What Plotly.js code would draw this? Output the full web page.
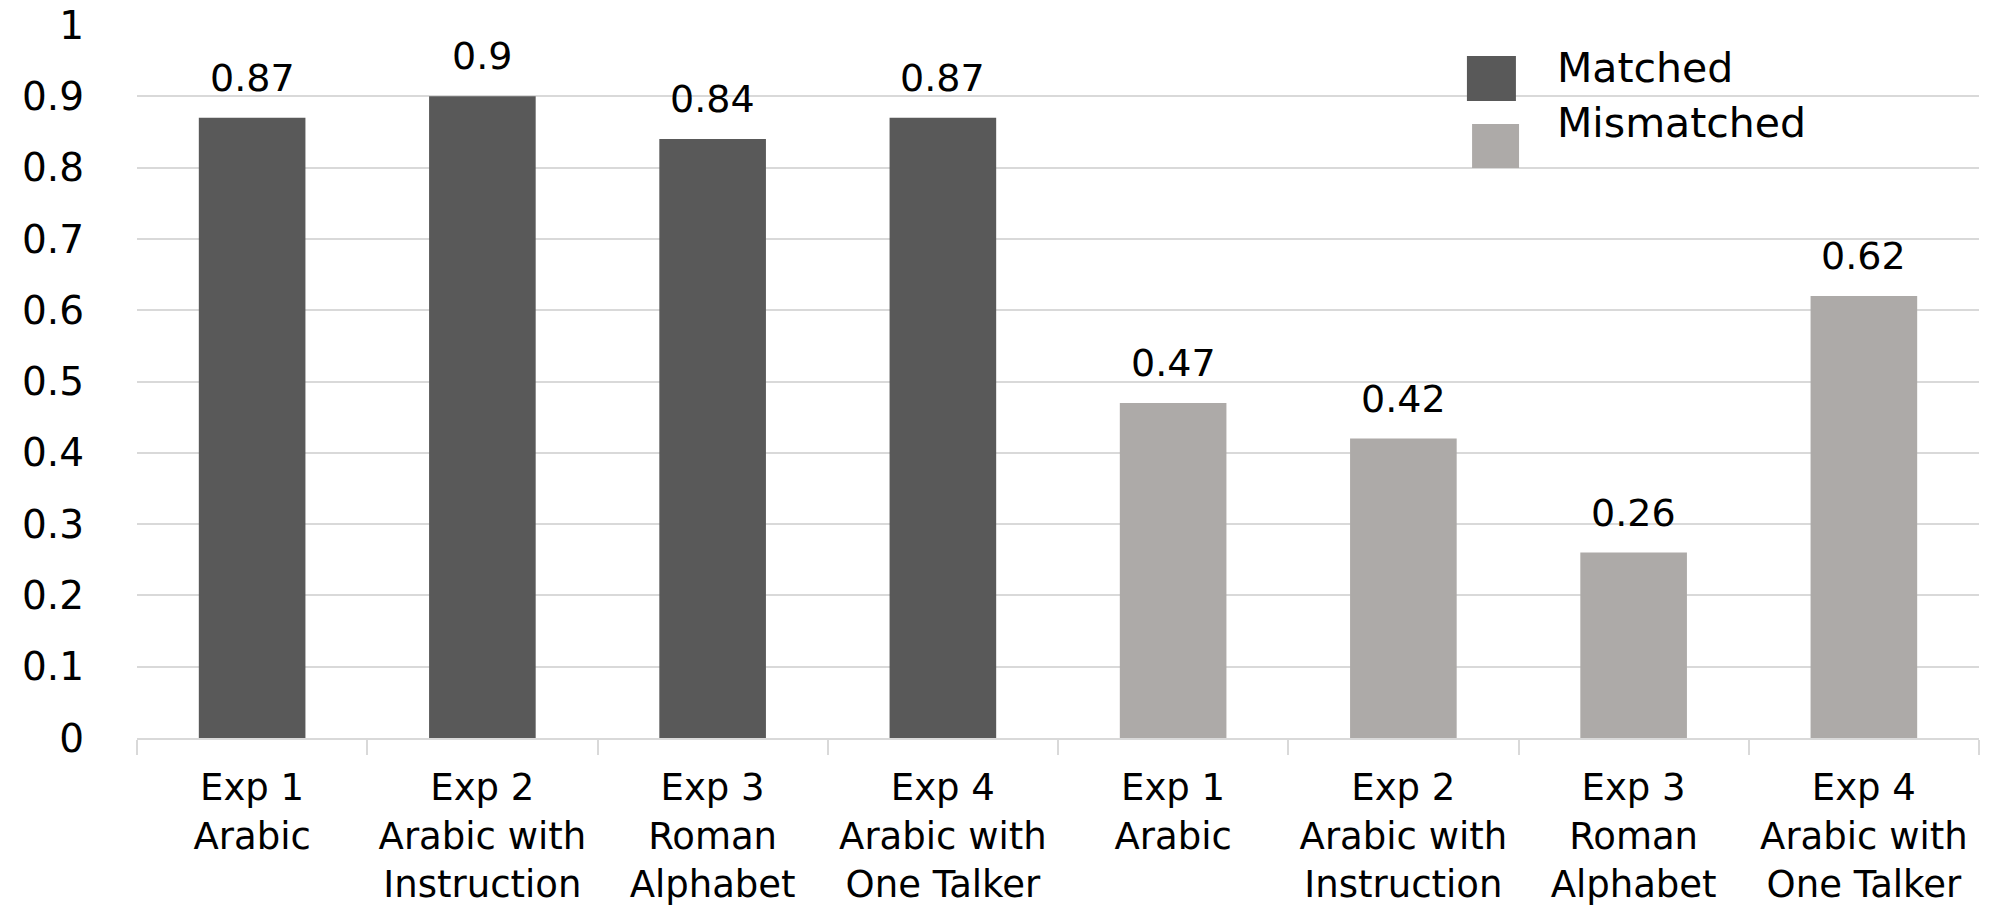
<!DOCTYPE html>
<html>
<head>
<meta charset="utf-8">
<script src="https://cdn.plot.ly/plotly-3.0.1.min.js"></script>
<style>
  html, body { margin: 0; padding: 0; background: #ffffff; }
  #chart { width: 1997px; height: 907px; }
</style>
</head>
<body>
<div id="chart"></div>
<script>
// Experiment labels (shared by both conditions)
const experiments = [
  'Exp 1<br>Arabic',
  'Exp 2<br>Arabic with<br>Instruction',
  'Exp 3<br>Roman<br>Alphabet',
  'Exp 4<br>Arabic with<br>One Talker'
];

// Proportions per condition
const matched = [0.87, 0.9, 0.84, 0.87];
const mismatched = [0.47, 0.42, 0.26, 0.62];

const seriesNames = ['Matched', 'Mismatched'];
const seriesColors = ['#595959', '#ADAAA8'];

const FONT = 'DejaVu Sans, sans-serif';

// Matched bars occupy slots 0..3, mismatched bars slots 4..7
const xMatched = matched.map((_, i) => i);
const xMismatched = mismatched.map((_, i) => i + matched.length);
const allX = xMatched.concat(xMismatched);
const allY = matched.concat(mismatched);
const tickText = experiments.concat(experiments);
const boundaries = [];
for (let i = 0; i <= allX.length; i++) boundaries.push(i - 0.5);

const traces = [
  {
    type: 'bar', name: seriesNames[0], x: xMatched, y: matched,
    width: 0.463, marker: { color: seriesColors[0] }, hoverinfo: 'skip', showlegend: false
  },
  {
    type: 'bar', name: seriesNames[1], x: xMismatched, y: mismatched,
    width: 0.463, marker: { color: seriesColors[1] }, hoverinfo: 'skip', showlegend: false
  }
];

// Value labels above each bar
const valueLabels = allX.map((x, i) => ({
  x: x, y: allY[i], xref: 'x', yref: 'y',
  text: String(allY[i]), showarrow: false,
  yanchor: 'bottom', yshift: 16,
  font: { family: FONT, size: 38, color: '#000000' }
}));

// Legend built from swatches and text in paper coordinates
const legendShapes = [
  { type: 'rect', xref: 'paper', yref: 'paper', x0: 0.7220, x1: 0.7486, y0: 0.8934, y1: 0.9565,
    fillcolor: seriesColors[0], line: { width: 0 } },
  { type: 'rect', xref: 'paper', yref: 'paper', x0: 0.7248, x1: 0.7503, y0: 0.7994, y1: 0.8612,
    fillcolor: seriesColors[1], line: { width: 0 } }
];
const legendText = seriesNames.map((name, i) => ({
  x: 0.7700, y: [0.9400, 0.8630][i], xref: 'paper', yref: 'paper',
  text: name, showarrow: false, xanchor: 'left', yanchor: 'middle',
  font: { family: FONT, size: 41, color: '#000000' }
}));

const layout = {
  width: 1997, height: 907,
  margin: { l: 137, r: 18, t: 25, b: 169 },
  paper_bgcolor: '#ffffff', plot_bgcolor: '#ffffff',
  barmode: 'overlay',
  showlegend: false,
  font: { family: FONT, color: '#000000' },
  xaxis: {
    range: [-0.5, allX.length - 0.5],
    tickvals: allX, ticktext: tickText,
    ticks: '', showgrid: false, zeroline: false,
    showline: true, linecolor: '#D9D9D9', linewidth: 2,
    tickfont: { family: FONT, size: 37, color: '#000000' },
    ticklabelstandoff: 16,
    minor: { tickvals: boundaries, ticks: 'outside', ticklen: 15, tickwidth: 2, tickcolor: '#D9D9D9', showgrid: false },
    fixedrange: true
  },
  yaxis: {
    range: [0, 1], dtick: 0.1, tick0: 0,
    showgrid: true, gridcolor: '#D9D9D9', gridwidth: 2,
    zeroline: false, showline: false, ticks: '',
    tickfont: { family: FONT, size: 39, color: '#000000' },
    ticklabelstandoff: 52,
    fixedrange: true
  },
  shapes: legendShapes,
  annotations: valueLabels.concat(legendText)
};

Plotly.newPlot('chart', traces, layout, { displayModeBar: false, staticPlot: true });
</script>
</body>
</html>
